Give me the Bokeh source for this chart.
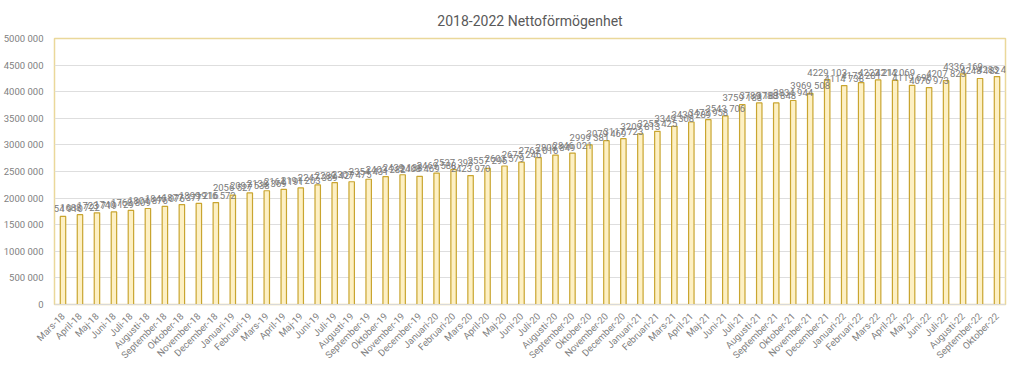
from bokeh.plotting import figure
from bokeh.models import ColumnDataSource, FactorRange, FixedTicker, Range1d, LabelSet, CustomJSTickFormatter
from bokeh.embed import file_html
from bokeh.resources import INLINE
from bokeh.core.properties import value
import math

months = ["Mars-18", "April-18", "Maj-18", "Juni-18", "Juli-18", "Augusti-18", "September-18",
          "Oktober-18", "November-18", "December-18",
          "Januari-19", "Februari-19", "Mars-19", "April-19", "Maj-19", "Juni-19", "Juli-19",
          "Augusti-19", "September-19", "Oktober-19", "November-19", "December-19",
          "Januari-20", "Februari-20", "Mars-20", "April-20", "Maj-20", "Juni-20", "Juli-20",
          "Augusti-20", "September-20", "Oktober-20", "November-20", "December-20",
          "Januari-21", "Februari-21", "Mars-21", "April-21", "Maj-21", "Juni-21", "Juli-21",
          "Augusti-21", "September-21", "Oktober-21", "November-21", "December-21",
          "Januari-22", "Februari-22", "Mars-22", "April-22", "Maj-22", "Juni-22", "Juli-22",
          "Augusti-22", "September-22", "Oktober-22"]

netto = [1654910, 1688722, 1723719, 1740129, 1768809, 1804876, 1846076, 1877377, 1899216, 1916572,
         2056527, 2097538, 2138369, 2164191, 2191203, 2247389, 2289427, 2307475, 2354431, 2403282,
         2439188, 2408469,
         2469588, 2537393, 2423970, 2557296, 2603579, 2675246, 2762016, 2808849, 2846021, 2999381,
         3079469, 3117723,
         3209813, 3255425, 3349308, 3430289, 3473958, 3543706, 3759183, 3789183, 3788848, 3834944,
         3969508, 4229103,
         4114738, 4172281, 4222212, 4214069, 4119696, 4076973, 4207823, 4336169, 4248182, 4283444]

y_ticks = [0, 500000, 1000000, 1500000, 2000000, 2500000, 3000000, 3500000, 4000000, 4500000, 5000000]


def fmt(v):
    s = f"{v:,}".replace(",", " ")
    parts = s.split(" ")
    if len(parts) >= 3:
        return "".join(parts[:-1]) + " " + parts[-1]
    return s


labels = [fmt(v) for v in netto]

src = ColumnDataSource(dict(m=months, v=netto, lab=labels))

FONT = "Roboto"

p = figure(x_range=FactorRange(*months, range_padding=0), y_range=Range1d(0, 5000000),
           frame_width=951, frame_height=266, output_backend="svg", toolbar_location=None,
           min_border_left=45, min_border_right=12, min_border_bottom=0, min_border_top=6)

p.title.text = "2018-2022 Nettoförmögenhet"
p.title.align = "center"
p.title.text_font = FONT
p.title.text_font_size = "14px"
p.title.text_font_style = "normal"
p.title.text_color = "#595959"
p.title.standoff = 20
p.title.offset = -10

p.vbar(x="m", top="v", width=0.32, source=src, fill_color="#FDF0C4", line_color="#C9A530", line_width=1.2)

ls = LabelSet(x="m", y="v", text="lab", source=src, text_align="center", text_baseline="bottom",
              y_offset=2, text_font_size="9.5px", text_color="#7A7A7A",
              text_font=value(FONT))
p.add_layout(ls)

p.outline_line_color = "#EAD89A"
p.outline_line_width = 1.5
p.xgrid.grid_line_color = None
p.ygrid.grid_line_color = "#DEDEDE"
p.ygrid.ticker = FixedTicker(ticks=y_ticks)

p.yaxis.ticker = FixedTicker(ticks=y_ticks)
p.yaxis.formatter = CustomJSTickFormatter(code="""
const s = String(Math.round(tick));
if (s.length <= 3) return s;
return s.slice(0, s.length-3) + ' ' + s.slice(s.length-3);
""")
p.yaxis.axis_line_color = None
p.yaxis.major_tick_line_color = None
p.yaxis.minor_tick_line_color = None
p.yaxis.major_label_text_font = FONT
p.yaxis.major_label_text_font_size = "9.5px"
p.yaxis.major_label_text_color = "#7F7F7F"

p.xaxis.axis_line_color = "#D9D9D9"
p.xaxis.major_tick_line_color = None
p.xaxis.minor_tick_line_color = None
p.xaxis.major_label_orientation = math.pi / 4
p.xaxis.major_label_text_font = FONT
p.xaxis.major_label_text_font_size = "9.5px"
p.xaxis.major_label_text_color = "#7F7F7F"
p.xaxis.major_label_standoff = 4

open("out.html", "w").write(file_html(p, INLINE))
